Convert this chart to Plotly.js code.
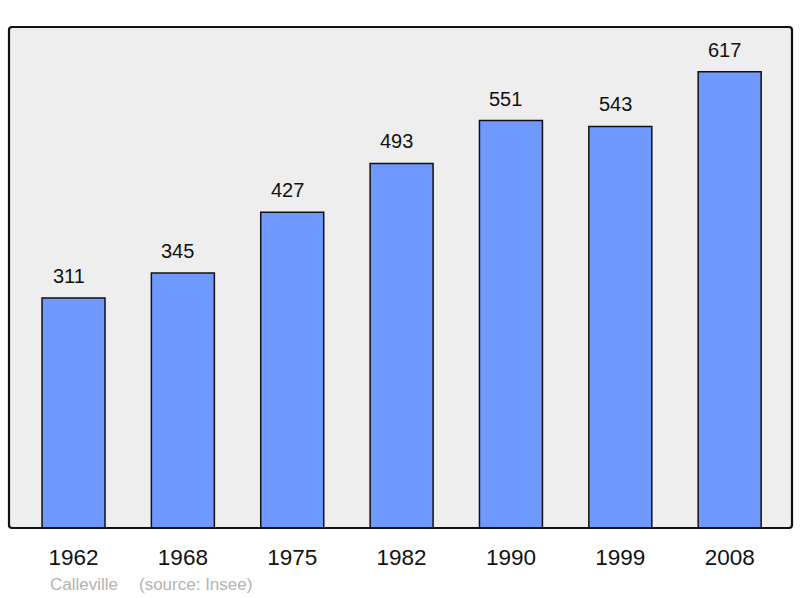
<!DOCTYPE html>
<html>
<head>
<meta charset="utf-8">
<script src="https://cdn.plot.ly/plotly-3.0.1.min.js"></script>
<style>html,body{margin:0;padding:0;background:#fff;}#chart{width:800px;height:598px;}</style>
</head>
<body>
<div id="chart"></div>
<script>
const years = ["1962", "1968", "1975", "1982", "1990", "1999", "2008"];
const population = [311, 345, 427, 493, 551, 543, 617];
const commune = "Calleville";
const source = "(source: Insee)";

const trace = {
  type: "bar",
  x: years,
  y: population,
  width: 0.576,
  marker: {color: "#7099ff", line: {color: "#111111", width: 1.5}},
  hoverinfo: "none"
};

const valueLabels = years.map((yr, i) => ({
  x: i, y: population[i], xref: "x", yref: "y",
  text: String(population[i]), showarrow: false,
  yanchor: "bottom", yshift: 9, xshift: -5,
  font: {family: "Liberation Sans, Arial, sans-serif", size: 20, color: "#111"}
}));

const layout = {
  width: 800, height: 598,
  margin: {l: 9, r: 8, t: 27, b: 70},
  paper_bgcolor: "#ffffff",
  plot_bgcolor: "#eeeeee",
  showlegend: false,
  xaxis: {
    type: "category",
    range: [-0.59, 6.57],
    showgrid: false, zeroline: false, showline: false,
    ticks: "", ticklabelstandoff: 13,
    tickfont: {family: "Liberation Sans, Arial, sans-serif", size: 22.5, color: "#111"},
    fixedrange: true
  },
  yaxis: {
    range: [0, 677.5],
    showgrid: false, zeroline: false, showline: false,
    showticklabels: false, ticks: "",
    fixedrange: true
  },
  shapes: [{
    type: "path", xref: "paper", yref: "paper",
    path: "M 0,0.006 L 0,0.994 Q 0,1 0.004,1 L 0.996,1 Q 1,1 1,0.994 L 1,0.006 Q 1,0 0.996,0 L 0.004,0 Q 0,0 0,0.006 Z",
    line: {color: "#111111", width: 2.2},
    layer: "above"
  }],
  annotations: valueLabels.concat([
    {xref: "paper", yref: "paper", x: (48 - 9) / 783, y: -0.112, xanchor: "left", yanchor: "middle",
     text: commune, showarrow: false,
     font: {family: "Liberation Sans, Arial, sans-serif", size: 17, color: "#b3b3b3"}},
    {xref: "paper", yref: "paper", x: (137 - 9) / 783, y: -0.112, xanchor: "left", yanchor: "middle",
     text: source, showarrow: false,
     font: {family: "Liberation Sans, Arial, sans-serif", size: 17, color: "#b3b3b3"}}
  ])
};

Plotly.newPlot("chart", [trace], layout, {displayModeBar: false, staticPlot: true});
</script>
</body>
</html>
